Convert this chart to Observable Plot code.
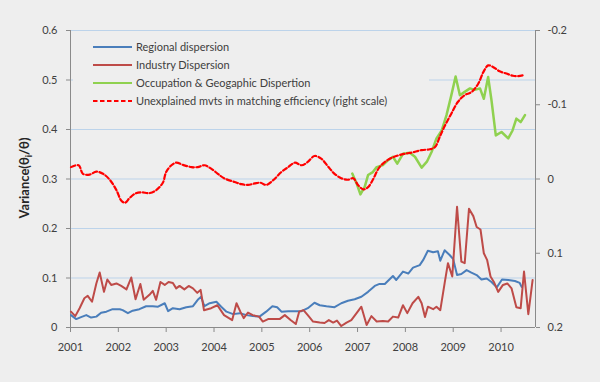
<!DOCTYPE html>
<html><head><meta charset="utf-8">
<script src="https://cdn.jsdelivr.net/npm/d3@7"></script>
<script src="https://cdn.jsdelivr.net/npm/@observablehq/plot@0.6"></script>
<style>
html,body{margin:0;padding:0;background:#eeeeee;}
#chart svg{display:block;}
</style></head><body><div id="chart"></div>
<script>
// ---- data (decimal year, value) ----
const yearTicks = [2001, 2002, 2003, 2004, 2005, 2006, 2007, 2008, 2009, 2010];
const leftTicks = [0, 0.1, 0.2, 0.3, 0.4, 0.5, 0.6];
const rightTicks = [-0.2, -0.1, 0, 0.1, 0.2];
const seriesNames = ["Regional dispersion", "Industry Dispersion", "Occupation & Geogaphic Dispertion", "Unexplained mvts in matching efficiency (right scale)"];

const regional = [[2001.01,0.025],[2001.12,0.017],[2001.22,0.021],[2001.33,0.025],[2001.43,0.020],[2001.54,0.022],[2001.64,0.030],[2001.75,0.032],[2001.88,0.037],[2002.03,0.037],[2002.09,0.035],[2002.20,0.029],[2002.30,0.034],[2002.44,0.037],[2002.58,0.043],[2002.72,0.043],[2002.83,0.042],[2002.97,0.049],[2003.04,0.033],[2003.14,0.039],[2003.28,0.037],[2003.42,0.041],[2003.56,0.043],[2003.66,0.056],[2003.73,0.062],[2003.80,0.043],[2003.91,0.049],[2004.05,0.052],[2004.15,0.042],[2004.26,0.032],[2004.40,0.027],[2004.54,0.029],[2004.68,0.025],[2004.81,0.023],[2004.95,0.022],[2005.09,0.032],[2005.22,0.043],[2005.32,0.041],[2005.41,0.032],[2005.55,0.033],[2005.69,0.033],[2005.83,0.033],[2005.96,0.039],[2006.10,0.050],[2006.21,0.045],[2006.35,0.043],[2006.52,0.041],[2006.66,0.049],[2006.80,0.054],[2006.94,0.057],[2007.08,0.062],[2007.22,0.072],[2007.36,0.084],[2007.46,0.088],[2007.57,0.088],[2007.74,0.104],[2007.81,0.096],[2007.95,0.113],[2008.06,0.109],[2008.16,0.121],[2008.30,0.126],[2008.37,0.136],[2008.47,0.155],[2008.58,0.152],[2008.68,0.154],[2008.73,0.135],[2008.82,0.156],[2008.93,0.146],[2009.00,0.138],[2009.08,0.106],[2009.17,0.108],[2009.28,0.116],[2009.38,0.111],[2009.49,0.106],[2009.59,0.097],[2009.70,0.099],[2009.80,0.092],[2009.91,0.081],[2010.02,0.097],[2010.15,0.096],[2010.29,0.094],[2010.39,0.090],[2010.43,0.082]];

const industry = [[2001.01,0.032],[2001.10,0.023],[2001.19,0.039],[2001.29,0.059],[2001.36,0.064],[2001.45,0.052],[2001.54,0.089],[2001.61,0.111],[2001.70,0.072],[2001.77,0.097],[2001.85,0.086],[2001.96,0.089],[2002.06,0.084],[2002.17,0.077],[2002.27,0.101],[2002.36,0.057],[2002.46,0.088],[2002.53,0.056],[2002.65,0.066],[2002.72,0.074],[2002.79,0.056],[2002.88,0.092],[2002.97,0.086],[2003.05,0.092],[2003.14,0.090],[2003.21,0.079],[2003.28,0.084],[2003.38,0.077],[2003.47,0.084],[2003.56,0.079],[2003.65,0.070],[2003.72,0.076],[2003.79,0.035],[2003.94,0.039],[2004.07,0.045],[2004.21,0.025],[2004.38,0.015],[2004.47,0.049],[2004.55,0.032],[2004.62,0.019],[2004.71,0.030],[2004.81,0.025],[2004.94,0.022],[2005.02,0.012],[2005.13,0.017],[2005.27,0.017],[2005.37,0.017],[2005.48,0.025],[2005.60,0.015],[2005.71,0.007],[2005.78,0.032],[2005.87,0.035],[2005.96,0.025],[2006.07,0.012],[2006.21,0.010],[2006.31,0.009],[2006.40,0.015],[2006.49,0.010],[2006.57,0.014],[2006.66,0.003],[2006.77,0.010],[2006.87,0.015],[2006.98,0.029],[2007.08,0.042],[2007.19,0.005],[2007.29,0.023],[2007.40,0.012],[2007.53,0.013],[2007.64,0.012],[2007.74,0.022],[2007.85,0.020],[2007.95,0.045],[2008.04,0.029],[2008.15,0.049],[2008.27,0.062],[2008.34,0.049],[2008.41,0.021],[2008.47,0.042],[2008.58,0.037],[2008.65,0.042],[2008.73,0.035],[2008.82,0.089],[2008.89,0.130],[2008.98,0.103],[2009.08,0.244],[2009.17,0.133],[2009.24,0.130],[2009.33,0.240],[2009.42,0.225],[2009.49,0.203],[2009.57,0.198],[2009.64,0.150],[2009.71,0.136],[2009.78,0.103],[2009.85,0.092],[2009.94,0.072],[2010.04,0.086],[2010.13,0.089],[2010.22,0.079],[2010.32,0.041],[2010.41,0.039],[2010.48,0.113],[2010.57,0.027],[2010.66,0.096]];

const occupation = [[2006.89,0.311],[2006.98,0.291],[2007.06,0.269],[2007.15,0.284],[2007.22,0.308],[2007.32,0.314],[2007.40,0.324],[2007.53,0.328],[2007.64,0.338],[2007.74,0.345],[2007.83,0.331],[2007.95,0.351],[2008.09,0.353],[2008.20,0.345],[2008.34,0.323],[2008.45,0.335],[2008.55,0.355],[2008.65,0.382],[2008.76,0.398],[2008.86,0.429],[2008.96,0.469],[2009.05,0.507],[2009.14,0.469],[2009.24,0.476],[2009.35,0.483],[2009.45,0.480],[2009.56,0.483],[2009.64,0.462],[2009.73,0.506],[2009.80,0.459],[2009.89,0.388],[2010.01,0.395],[2010.15,0.382],[2010.24,0.398],[2010.32,0.422],[2010.41,0.415],[2010.50,0.429]];

// right scale (inverted: -0.2 at top, 0.2 at bottom)
const unexplained = [[2001.01,-0.016],[2001.17,-0.0185],[2001.26,-0.007],[2001.40,-0.006],[2001.54,-0.010],[2001.68,-0.007],[2001.82,0.001],[2001.96,0.015],[2002.06,0.029],[2002.14,0.032],[2002.23,0.026],[2002.34,0.020],[2002.48,0.018],[2002.65,0.019],[2002.79,0.015],[2002.93,0.005],[2003.00,-0.0095],[2003.11,-0.0185],[2003.21,-0.022],[2003.35,-0.019],[2003.53,-0.016],[2003.66,-0.016],[2003.80,-0.0185],[2003.94,-0.014],[2004.08,-0.007],[2004.21,-0.001],[2004.43,0.004],[2004.57,0.007],[2004.71,0.008],[2004.85,0.006],[2004.97,0.005],[2005.09,0.008],[2005.23,0.002],[2005.41,-0.0095],[2005.55,-0.016],[2005.69,-0.022],[2005.83,-0.0185],[2005.96,-0.023],[2006.10,-0.031],[2006.24,-0.0275],[2006.38,-0.017],[2006.52,-0.007],[2006.66,-0.001],[2006.80,0.001],[2006.91,-0.001],[2007.01,0.008],[2007.12,0.014],[2007.22,0.011],[2007.32,0.001],[2007.46,-0.016],[2007.64,-0.026],[2007.81,-0.031],[2007.99,-0.034],[2008.16,-0.036],[2008.34,-0.039],[2008.51,-0.040],[2008.62,-0.043],[2008.72,-0.057],[2008.82,-0.071],[2008.96,-0.088],[2009.10,-0.104],[2009.24,-0.113],[2009.38,-0.117],[2009.52,-0.128],[2009.63,-0.144],[2009.73,-0.153],[2009.83,-0.151],[2009.97,-0.145],[2010.11,-0.142],[2010.25,-0.139],[2010.36,-0.1386],[2010.45,-0.1395]];

// ---- styles ----
const colors = ["#4a7ebb", "#be4b48", "#8fd14f", "#ff0000"];
const bg = "#eeeeee";
const axisGray = "#8a8a8a";
const textGray = "#404040";
const font = "Lato, 'Open Sans', sans-serif";

// right value -> left-scale position
const toLeft = r => 0.3 - 1.5 * r;
const fromLeft = v => (0.3 - v) / 1.5;

const chart = Plot.plot({
  width: 600,
  height: 382,
  marginLeft: 70,
  marginRight: 65,
  marginTop: 30,
  marginBottom: 55,
  style: {background: bg, fontFamily: font, fontSize: "11px", color: textGray, overflow: "visible"},
  x: {domain: [2001, 2010.72]},
  y: {domain: [0, 0.6]},
  marks: [
    Plot.ruleY(leftTicks.filter(d => d > 0), {stroke: "#bcd3ea", strokeWidth: 1}),
    Plot.ruleX([2001], {stroke: axisGray}),
    Plot.ruleX([2010.72], {stroke: axisGray}),
    Plot.ruleY([0], {stroke: axisGray}),
    Plot.axisY({ticks: leftTicks, tickSize: 4, tickPadding: 9, label: null, stroke: axisGray, fill: textGray,
      tickFormat: d => d === 0 ? "0" : d3.format(".1f")(d)}),
    Plot.axisY({anchor: "right", ticks: rightTicks.map(toLeft), tickSize: 4, tickPadding: 8, label: null, stroke: axisGray, fill: textGray,
      tickFormat: v => { const r = Math.round(fromLeft(v) * 10) / 10; return r === 0 ? "0" : String(r); }}),
    Plot.axisX({ticks: yearTicks, tickSize: 5, tickPadding: 11, label: null, stroke: axisGray, fill: textGray,
      tickFormat: d => String(d)}),
    Plot.line(regional, {x: d => d[0], y: d => d[1], stroke: colors[0], strokeWidth: 2}),
    Plot.line(industry, {x: d => d[0], y: d => d[1], stroke: colors[1], strokeWidth: 2}),
    Plot.line(occupation, {x: d => d[0], y: d => d[1], stroke: colors[2], strokeWidth: 2.5}),
    Plot.line(unexplained, {x: d => d[0], y: d => toLeft(d[1]), stroke: colors[3], strokeWidth: 2.2,
      strokeDasharray: "4.5,2.5", curve: "catmull-rom"})
  ]
});

document.getElementById("chart").appendChild(chart);
const svg = d3.select(chart);

// y-axis title
const title = svg.append("text")
  .attr("transform", "translate(29,178) rotate(-90)")
  .attr("text-anchor", "middle")
  .attr("font-family", font)
  .attr("font-weight", "bold")
  .attr("font-size", 13)
  .attr("fill", "#262626");
title.append("tspan").text("Variance(θ");
title.append("tspan").attr("font-size", 9).attr("dy", 3).text("i");
title.append("tspan").attr("dy", -3).text("/θ)");

// legend
const lg = svg.append("g");
lg.append("rect").attr("x", 73).attr("y", 36).attr("width", 356).attr("height", 84).attr("fill", bg);
const dashes = [null, null, null, "4.5,2.5"];
seriesNames.forEach((name, i) => {
  const y = 47 + i * 18;
  lg.append("line").attr("x1", 93).attr("x2", 132).attr("y1", y).attr("y2", y)
    .attr("stroke", colors[i]).attr("stroke-width", 2.2).attr("stroke-dasharray", dashes[i]);
  lg.append("text").attr("x", 136).attr("y", y + 4)
    .attr("text-anchor", "start")
    .attr("font-family", font).attr("font-size", 11).attr("fill", textGray).text(name);
});
</script>
</body></html>
